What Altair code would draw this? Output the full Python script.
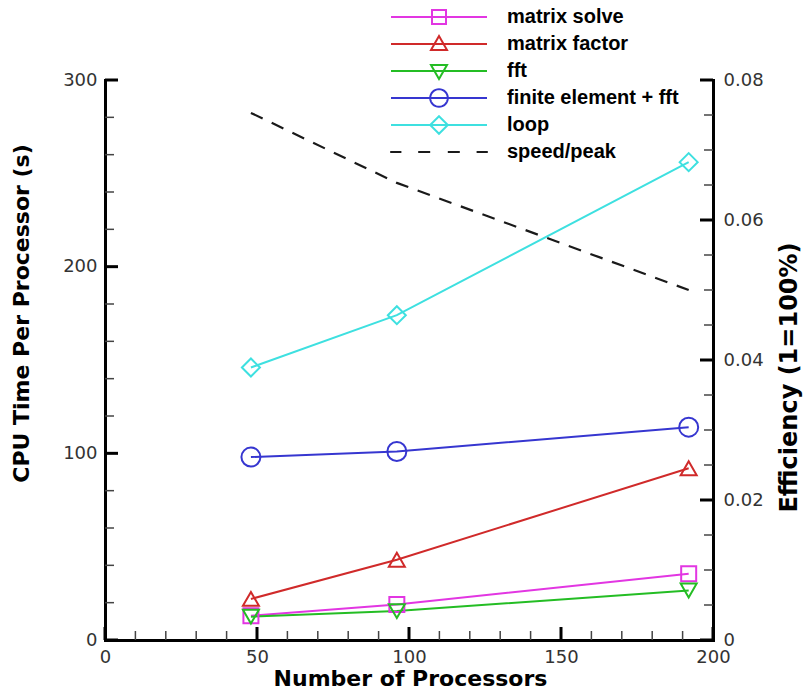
import math
import altair as alt
import pandas as pd

# ---------------- data ----------------
procs = [48, 96, 192]
series_names = ["matrix solve", "matrix factor", "fft", "finite element + fft", "loop"]
matrix_solve = [13.0, 19.0, 35.5]
matrix_factor = [22.0, 43.0, 92.0]
fft = [12.5, 15.5, 26.5]
finite_element_fft = [98.0, 101.0, 114.0]
loop = [146.0, 174.0, 256.0]
speed_peak = [0.0753, 0.0653, 0.0500]

left_ticks = [0, 100, 200, 300]
right_ticks = [0, 0.02, 0.04, 0.06, 0.08]
bottom_ticks = [0, 50, 100, 150, 200]
left_minor = [v for v in range(0, 301, 20) if v % 100 != 0]
right_minor = [v / 1000 for v in range(0, 81, 5) if v % 20 != 0]
bottom_minor = [v for v in range(0, 201, 10) if v % 50 != 0]

# ---------------- styles ----------------
colors = ["#e236e2", "#d02a2a", "#24bd24", "#3636d0", "#3ee0e0"]
shapes = ["square", "triangle-up", "triangle-down", "circle", "diamond"]
marker_sizes = {"square": 225, "triangle-up": 256, "triangle-down": 256, "circle": 361, "diamond": 324}

# legend symbol paths (line through marker); circle drawn as polygon.
# every path carries the same invisible zero-length extremes so all rows are equally tall
_r = 1.1
_circ = "M" + "L".join(
    f"{_r * math.cos(2 * math.pi * k / 32):.3f},{_r * math.sin(2 * math.pi * k / 32):.3f}" for k in range(32)
) + "Z"
_pad = "M0,-1.1L0,-1.1M0,1.1L0,1.1"
legend_names = series_names + ["speed/peak"]
legend_colors = colors + ["#1a1a1a"]
legend_paths = [
    _pad + "M-6,0H6M-0.875,-0.875H0.875V0.875H-0.875Z",
    _pad + "M-6,0H6M0,-1L1,0.75L-1,0.75Z",
    _pad + "M-6,0H6M0,1L1,-0.75L-1,-0.75Z",
    _pad + "M-6,0H6" + _circ,
    _pad + "M-6,0H6M0,-1.1L1.1,0L0,1.1L-1.1,0Z",
    _pad + "M-6.1,0H-4.7M-2.6,0H-1.1M1.1,0H2.6M4.7,0H6.1",
]

W, H = 608, 560

rows = []
for name, vals, shp in zip(series_names, [matrix_solve, matrix_factor, fft, finite_element_fft, loop], shapes):
    for p, v in zip(procs, vals):
        rows.append({"procs": p, "time": v, "series": name, "msize": marker_sizes[shp]})
df = pd.DataFrame(rows)
df_speed = pd.DataFrame({"procs": procs, "eff": speed_peak})

df_xmaj = pd.DataFrame({"procs": bottom_ticks})
df_xmin = pd.DataFrame({"procs": bottom_minor})
df_lmaj = pd.DataFrame({"time": left_ticks})
df_lmin = pd.DataFrame({"time": left_minor})
df_rmaj = pd.DataFrame({"eff": right_ticks})
df_rmin = pd.DataFrame({"eff": right_minor})

# ---------------- scales / axes ----------------
xs = alt.Scale(domain=[0, 200], nice=False, zero=False)
ys = alt.Scale(domain=[0, 300], nice=False)
ys2 = alt.Scale(domain=[0, 0.08], nice=False)

x_axis = alt.Axis(
    title="Number of Processors", values=bottom_ticks, labelPadding=8,
    titleX=305, titleY=45, titleAlign="center", titleBaseline="alphabetic", titleAngle=0,
)
left_axis = alt.Axis(
    title="CPU Time Per Processor (s)", values=left_ticks, labelPadding=8,
    titleAngle=270, titleAlign="center", titleBaseline="middle", titleX=-84, titleY=233,
)
right_axis = alt.Axis(
    title="Efficiency (1=100%)", values=right_ticks, orient="right", format="~g", labelPadding=10,
    titleAngle=270, titleAlign="center", titleBaseline="middle", titleX=76, titleY=297,
    titleFontSize=24,
)

X = alt.X("procs:Q", scale=xs, axis=x_axis)
Y = alt.Y("time:Q", scale=ys, axis=left_axis)
Y2 = alt.Y("eff:Q", scale=ys2, axis=right_axis)

color5 = alt.Scale(domain=series_names, range=colors)

lines = alt.Chart(df).mark_line(strokeWidth=2).encode(
    x=X, y=Y, color=alt.Color("series:N", scale=color5, legend=None)
)
points = alt.Chart(df).mark_point(filled=False, strokeWidth=2, opacity=1).encode(
    x=X, y=Y,
    color=alt.Color("series:N", scale=color5, legend=None),
    shape=alt.Shape("series:N", scale=alt.Scale(domain=series_names, range=shapes), legend=None),
    size=alt.Size("msize:Q", scale=None, legend=None),
)

leg_props = dict(
    orient="none", legendX=324, legendY=-73, title=None, padding=0, rowPadding=1,
    labelOffset=58, symbolSize=256, symbolStrokeWidth=2, labelFont="Liberation Sans",
    labelFontSize=20, labelFontWeight="bold", labelColor="black", labelLimit=400,
)
legend_layer = alt.Chart(df).transform_filter("false").mark_point(
    filled=False, strokeWidth=2, opacity=1, size=256
).encode(
    color=alt.Color("series:N", scale=alt.Scale(domain=legend_names, range=legend_colors),
                    legend=alt.Legend(**leg_props)),
    shape=alt.Shape("series:N", scale=alt.Scale(domain=legend_names, range=legend_paths),
                    legend=alt.Legend(**leg_props)),
)

MAJ, MIN = 13, 9
bx_maj = alt.Chart(df_xmaj).mark_rule(color="black", strokeWidth=3).encode(
    x=X, y=alt.value(H), y2=alt.value(H - MAJ))
bx_min = alt.Chart(df_xmin).mark_rule(color="#444444", strokeWidth=1.5).encode(
    x=X, y=alt.value(H), y2=alt.value(H - MIN))
l_maj = alt.Chart(df_lmaj).mark_rule(color="black", strokeWidth=3).encode(
    y=Y, x=alt.value(0), x2=alt.value(MAJ))
l_min = alt.Chart(df_lmin).mark_rule(color="#444444", strokeWidth=1.5).encode(
    y=Y, x=alt.value(0), x2=alt.value(MIN))

left = alt.layer(lines, points, bx_maj, bx_min, l_maj, l_min, legend_layer).resolve_scale(
    color="independent", shape="independent"
)

speed = alt.Chart(df_speed).mark_line(color="#1a1a1a", strokeWidth=2.2, strokeDash=[13, 10]).encode(
    x=X, y=Y2)
r_maj = alt.Chart(df_rmaj).mark_rule(color="black", strokeWidth=3).encode(
    y=Y2, x=alt.value(W), x2=alt.value(W - MAJ))
r_min = alt.Chart(df_rmin).mark_rule(color="#444444", strokeWidth=1.5).encode(
    y=Y2, x=alt.value(W), x2=alt.value(W - MIN))

right = alt.layer(speed, r_maj, r_min)

chart = alt.layer(left, right).resolve_scale(y="independent").properties(
    width=W, height=H,
    padding={"left": 105, "top": 80, "right": 91, "bottom": 50},
    autosize="none",
).configure(background="white").configure_view(stroke=None).configure_axis(
    grid=False, ticks=False, tickSize=0, domainColor="black", domainWidth=3, domainCap="square",
    labelFont="DejaVu Sans", labelFontSize=18, labelColor="#333333", labelFlush=False,
    labelOverlap=False, titleFont="DejaVu Sans", titleFontSize=22, titleFontWeight="bold",
    titleColor="black",
)

chart.save("out.html", embed_options={"renderer": "svg", "actions": False})
